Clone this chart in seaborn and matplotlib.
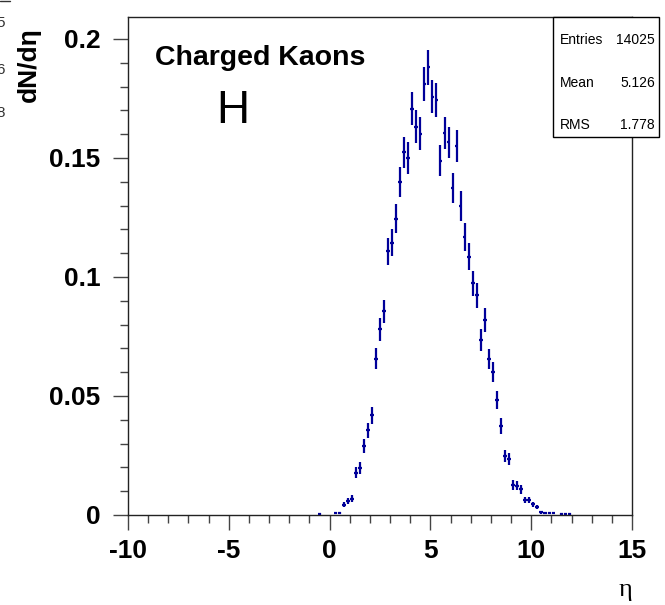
import matplotlib
matplotlib.use("Agg")
import matplotlib.pyplot as plt
import seaborn as sns
import pandas as pd
from matplotlib.patches import Rectangle
from matplotlib.ticker import FixedLocator, MultipleLocator

# bin centres (bin width 0.2), empty bins left out
eta = [-0.5, 0.3, 0.5, 0.7, 0.9, 1.1, 1.3, 1.5, 1.7, 1.9,
       2.1, 2.3, 2.5, 2.7, 2.9, 3.1, 3.3, 3.5, 3.7, 3.9,
       4.1, 4.3, 4.5, 4.7, 4.9, 5.1, 5.3, 5.5, 5.7, 5.9,
       6.1, 6.3, 6.5, 6.7, 6.9, 7.1, 7.3, 7.5, 7.7, 7.9,
       8.1, 8.3, 8.5, 8.7, 8.9, 9.1, 9.3, 9.5, 9.7, 9.9,
       10.1, 10.3, 10.5, 10.7, 10.9, 11.1, 11.5, 11.7, 11.9]
dndeta = [0.0004, 0.0007, 0.0007, 0.0044, 0.0059, 0.0068, 0.0178, 0.0197, 0.0291, 0.0355,
          0.0419, 0.0657, 0.078, 0.0855, 0.1108, 0.1144, 0.1245, 0.1399, 0.1524, 0.1499,
          0.1707, 0.1632, 0.1602, 0.1811, 0.1881, 0.1758, 0.1744, 0.1489, 0.1604, 0.1565,
          0.1375, 0.155, 0.1298, 0.1169, 0.1085, 0.0973, 0.0923, 0.0735, 0.0819, 0.0655,
          0.0602, 0.0483, 0.0374, 0.0248, 0.0235, 0.0126, 0.0123, 0.0108, 0.0063, 0.0063,
          0.0045, 0.0034, 0.0012, 0.0007, 0.0007, 0.0007, 0.0004, 0.0004, 0.0004]
dndeta_err = [0.00034, 0.00045, 0.00045, 0.0011, 0.0013, 0.0014, 0.0023, 0.0024, 0.0029, 0.0032,
              0.0035, 0.0044, 0.0047, 0.005, 0.0057, 0.0058, 0.006, 0.0064, 0.0066, 0.0066,
              0.007, 0.0069, 0.0068, 0.0072, 0.0074, 0.0071, 0.0071, 0.0066, 0.0068, 0.0067,
              0.0063, 0.0067, 0.0061, 0.0058, 0.0056, 0.0053, 0.0052, 0.0046, 0.0049, 0.0043,
              0.0042, 0.0037, 0.0033, 0.0027, 0.0026, 0.0019, 0.0019, 0.0018, 0.0014, 0.0014,
              0.0011, 0.001, 0.0006, 0.00045, 0.00045, 0.00045, 0.00034, 0.00034, 0.00034]

xtick_vals = [-10, -5, 0, 5, 10, 15]
xtick_labels = ["-10", "-5", "0", "5", "10", "15"]
ytick_vals = [0, 0.05, 0.1, 0.15, 0.2]
ytick_labels = ["0", "0.05", "0.1", "0.15", "0.2"]

stats_names = ["Entries", "Mean", "RMS"]
stats_values = ["14025", "5.126", "1.778"]

df = pd.DataFrame({"eta": eta, "dndeta": dndeta, "err": dndeta_err})

sns.set_style("ticks")
plt.rcParams["font.family"] = ["Liberation Sans", "DejaVu Sans"]
plt.rcParams["text.color"] = "black"
plt.rcParams["xtick.labelcolor"] = "black"
plt.rcParams["ytick.labelcolor"] = "black"

W, H = 665, 605
fig = plt.figure(figsize=(W / 100, H / 100), dpi=100)
ax = fig.add_axes([128 / W, (H - 515) / H, (632 - 128) / W, (515 - 17) / H])

blue = "#000099"
ax.errorbar(df["eta"], df["dndeta"], xerr=0.09, yerr=df["err"], fmt="none",
            ecolor=blue, elinewidth=1.6, capsize=0)
sns.scatterplot(data=df, x="eta", y="dndeta", ax=ax, marker="s", s=3,
                color=blue, edgecolor=blue, linewidth=0, legend=False)

ax.set_xlim(-10, 15)
ax.set_ylim(0, 0.2092)
ax.set_xlabel("")
ax.set_ylabel("")

ax.xaxis.set_major_locator(FixedLocator(xtick_vals))
ax.set_xticklabels(xtick_labels)
ax.xaxis.set_minor_locator(MultipleLocator(1))
ax.yaxis.set_major_locator(FixedLocator(ytick_vals))
ax.set_yticklabels(ytick_labels)
ax.yaxis.set_minor_locator(MultipleLocator(0.01))

for s in ax.spines.values():
    s.set_visible(True)
    s.set_linewidth(1.0)
    s.set_color("#222222")

ax.tick_params(which="major", direction="out", length=11, width=1, color="#444444",
               labelsize=19, labelcolor="black", top=False, right=False)
ax.tick_params(which="minor", direction="out", length=6, width=1, color="#444444",
               top=False, right=False)
ax.tick_params(axis="x", which="major", pad=6)
ax.tick_params(axis="y", which="major", pad=9)
for lab in ax.get_xticklabels() + ax.get_yticklabels():
    lab.set_fontweight("bold")

# texts
fig.text(155 / W, 1 - 65 / H, "Charged Kaons", fontsize=20.5, fontweight="bold",
         color="black", ha="left", va="baseline")
fig.text(216 / W, 1 - 123 / H, "H", fontsize=33, color="black", ha="left", va="baseline")
fig.text(29 / W, 1 - 27 / H, "dN/dη", fontsize=19, fontweight="bold", color="black",
         rotation=90, ha="center", va="top")
fig.text(632 / W, 1 - 590 / H, "η", fontsize=19, family=["Liberation Serif", "DejaVu Serif"],
         color="black", ha="right", va="center")

# stats box
box = Rectangle((553 / W, 1 - 137 / H), (659 - 553) / W, (137 - 17) / H,
                transform=fig.transFigure, facecolor="white", edgecolor="black",
                linewidth=1, zorder=5)
fig.patches.append(box)
rows_y = [40, 83, 125]
for name, val, ry in zip(stats_names, stats_values, rows_y):
    fig.text(560 / W, 1 - ry / H, name, fontsize=10, color="black",
             ha="left", va="center", zorder=6)
    fig.text(655 / W, 1 - ry / H, val, fontsize=10, color="black",
             ha="right", va="center", zorder=6)

# clipped remnants of a neighbouring pad at the left edge
for digit, ry in zip(["5", "6", "8"], [23, 70, 113]):
    fig.text(5 / W, 1 - ry / H, digit, fontsize=11, ha="right", va="center", color="#333333")
fig.add_artist(plt.Line2D([0, 10 / W], [1 - 1 / H, 1 - 1 / H], transform=fig.transFigure,
                          color="#333333", linewidth=1))

fig.savefig("out.png", dpi=100)
